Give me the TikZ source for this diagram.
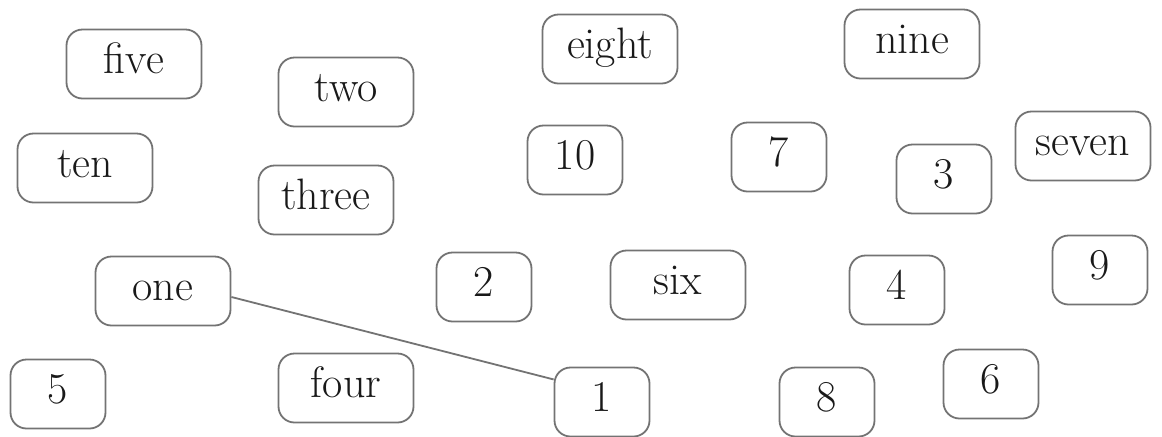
\documentclass[tikz,border=0pt]{standalone}
\begin{document}
\begin{tikzpicture}[x=0.5pt,y=-0.5pt,
    card/.style={draw=black!55, line width=0.9pt, rounded corners=8pt,
        minimum height=34.5pt, text height=15pt, text depth=6pt, inner sep=0pt,
        text=black!90, font=\fontsize{22}{26}\selectfont},
    wordcard/.style={card, minimum width=67.5pt},
    numcard/.style={card, minimum width=47.5pt}]
    \useasboundingbox (0,0) rectangle (1162,436);
    \foreach \n/\x/\y in {five/134/64, two/346/92, eight/610/49, nine/912/44,
        ten/85/168, three/326/200, seven/1083/146, one/163/291,
        six/678/285, four/346/388} {
        \node[wordcard] (\n) at (\x,\y) {\n};
    }
    \foreach \n/\x/\y in {10/575/160, 7/779/157, 3/944/179, 2/484/287,
        4/897/290, 9/1100/270, 5/58/394, 1/602/402, 8/827/402, 6/991/384} {
        \node[numcard] (n\n) at (\x,\y) {\n};
    }
    \draw[black!55, line width=0.9pt] (one.-5) -- (n1.155);
\end{tikzpicture}
\end{document}
